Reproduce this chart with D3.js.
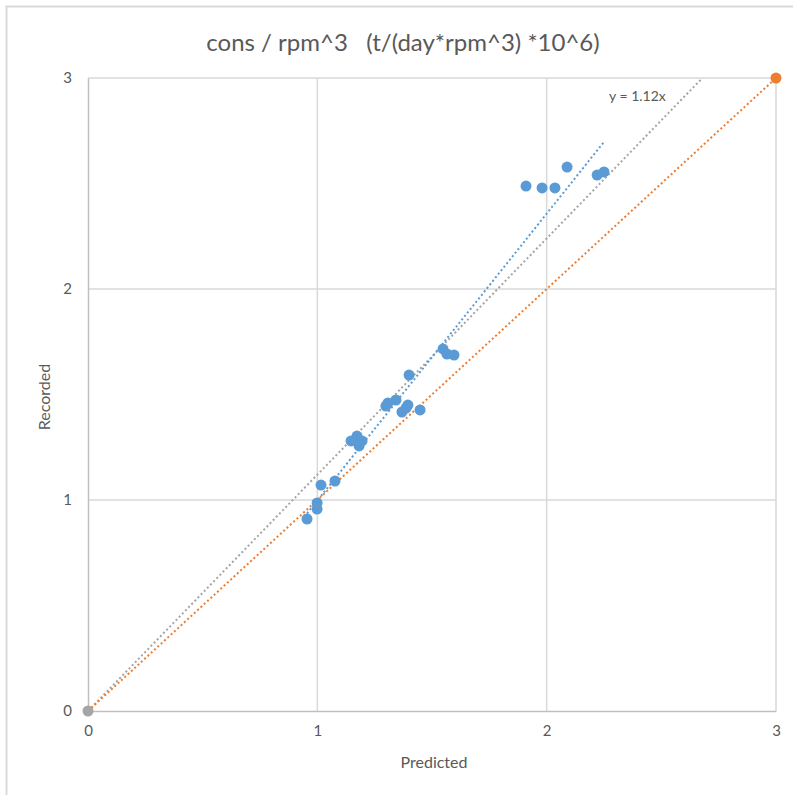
<!DOCTYPE html>
<html>
<head>
<meta charset="utf-8">
<script src="https://cdnjs.cloudflare.com/ajax/libs/d3/7.8.5/d3.min.js"></script>
<style>
  body { margin: 0; background: #fff; }
  text { font-family: Lato, "Open Sans", sans-serif; fill: #595959; }
</style>
</head>
<body>
<svg width="793" height="795"></svg>
<script>
// recorded vs predicted values
const predicted = [0.955, 0.999, 0.999, 1.016, 1.077, 1.147, 1.173, 1.195, 1.182,
  1.299, 1.308, 1.343, 1.395, 1.387, 1.369, 1.448, 1.400, 1.548, 1.565, 1.596,
  1.910, 1.980, 2.036, 2.089, 2.220, 2.250];
const recorded = [0.910, 0.986, 0.957, 1.071, 1.090, 1.280, 1.303, 1.280, 1.256,
  1.445, 1.460, 1.474, 1.450, 1.436, 1.417, 1.427, 1.592, 1.716, 1.692, 1.687,
  2.488, 2.479, 2.479, 2.578, 2.540, 2.555];

// blue series trendline ends (as drawn)
const trendX = [0.955, 2.25];
const trendY = [0.936, 2.697];

// reference line y = x and fitted line y = 1.12x
const identX = [0, 3];
const identY = [0, 3];
const fitX = [0, 2.679];
const fitY = [0, 3];

const ticks = [0, 1, 2, 3];

const svg = d3.select("svg");

const x = d3.scaleLinear().domain([0, 3]).range([88, 776]);
const y = d3.scaleLinear().domain([0, 3]).range([711, 78]);

// chart frame
svg.append("rect")
  .attr("x", 6.5).attr("y", 6.5)
  .attr("width", 820).attr("height", 820)
  .attr("fill", "none")
  .attr("stroke", "#d9d9d9")
  .attr("stroke-width", 2);

// title
svg.append("text")
  .attr("x", 403).attr("y", 51)
  .attr("text-anchor", "middle")
  .style("font-size", "24px")
  .style("white-space", "pre")
  .text("cons / rpm^3   (t/(day*rpm^3) *10^6)");

// gridlines
svg.append("g").selectAll("line")
  .data(ticks.slice(1))
  .enter().append("line")
  .attr("x1", d => x(d)).attr("x2", d => x(d))
  .attr("y1", y(0)).attr("y2", y(3))
  .attr("stroke", "#d9d9d9").attr("stroke-width", 1.5);

svg.append("g").selectAll("line")
  .data(ticks.slice(1))
  .enter().append("line")
  .attr("x1", x(0)).attr("x2", x(3))
  .attr("y1", d => y(d)).attr("y2", d => y(d))
  .attr("stroke", "#d9d9d9").attr("stroke-width", 1.5);

// axes (lines only, labels drawn by the axis generator)
const xAxis = svg.append("g")
  .attr("transform", `translate(0,${y(0)})`)
  .call(d3.axisBottom(x).tickValues(ticks).tickSize(0).tickPadding(14).tickFormat(d3.format("d")));
const yAxis = svg.append("g")
  .attr("transform", `translate(${x(0)},0)`)
  .call(d3.axisLeft(y).tickValues(ticks).tickSize(0).tickPadding(16).tickFormat(d3.format("d")));

[xAxis, yAxis].forEach(a => {
  a.select(".domain").attr("stroke", "#bfbfbf").attr("stroke-width", 1.5);
  a.selectAll("text").style("font-size", "15px").attr("fill", "#595959")
    .style("font-family", "Lato, 'Open Sans', sans-serif");
});

// axis titles
svg.append("text")
  .attr("x", 434).attr("y", 768)
  .attr("text-anchor", "middle")
  .style("font-size", "16px")
  .text("Predicted");

svg.append("text")
  .attr("transform", "translate(50,397) rotate(-90)")
  .attr("text-anchor", "middle")
  .style("font-size", "16px")
  .text("Recorded");

// dotted lines
const line = d3.line().x(d => x(d[0])).y(d => y(d[1]));
const dotted = (xs, ys, color) => svg.append("path")
  .datum(d3.zip(xs, ys))
  .attr("d", line)
  .attr("fill", "none")
  .attr("stroke", color)
  .attr("stroke-width", 2)
  .attr("stroke-dasharray", "2,2.5");

dotted(fitX, fitY, "#a5a5a5");
dotted(identX, identY, "#ed7d31");
dotted(trendX, trendY, "#5b9bd5");

svg.append("text")
  .attr("x", 609).attr("y", 101)
  .style("font-size", "14px")
  .text("y = 1.12x");

// blue points
svg.append("g").selectAll("circle")
  .data(d3.zip(predicted, recorded))
  .enter().append("circle")
  .attr("cx", d => x(d[0]))
  .attr("cy", d => y(d[1]))
  .attr("r", 5.5)
  .attr("fill", "#5b9bd5");

// end markers
svg.append("circle").attr("cx", x(identX[1])).attr("cy", y(identY[1])).attr("r", 5.5).attr("fill", "#ed7d31");
svg.append("circle").attr("cx", x(0)).attr("cy", y(0)).attr("r", 5.5).attr("fill", "#a5a5a5");
</script>
</body>
</html>
